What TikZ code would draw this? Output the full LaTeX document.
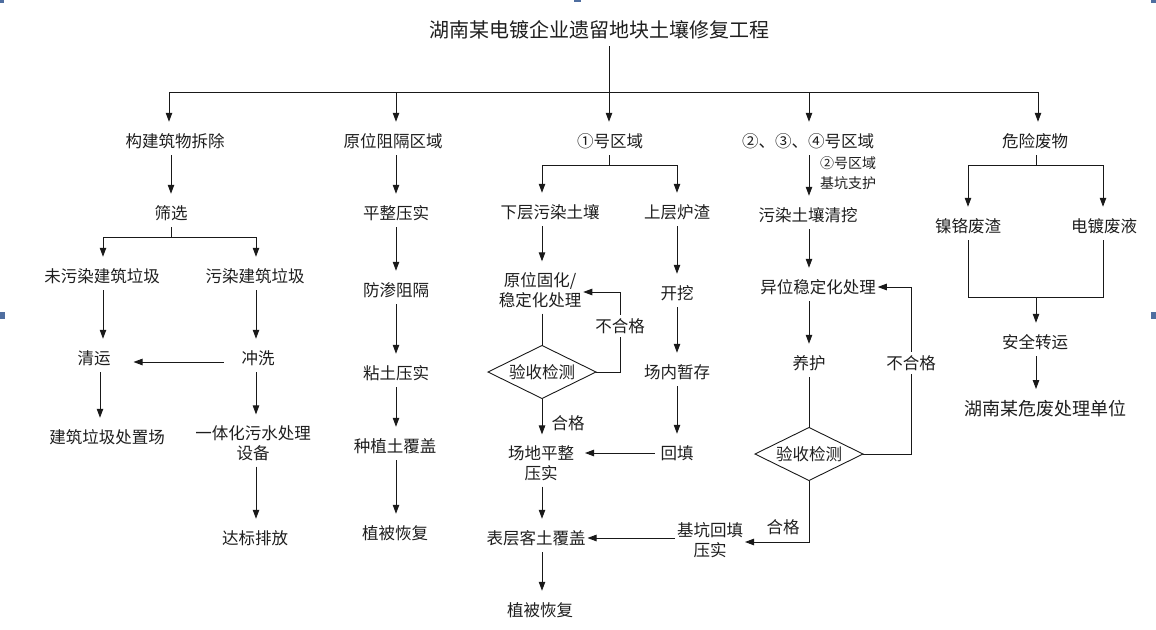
\documentclass[tikz,border=0pt]{standalone}
\usepackage{fontspec}
\setmainfont{Noto Sans CJK SC}
\usetikzlibrary{arrows.meta,shapes.geometric}
\definecolor{ln}{RGB}{25,25,25}
\definecolor{tx}{RGB}{30,30,30}
\definecolor{handle}{RGB}{79,110,160}
\begin{document}
\begin{tikzpicture}[x=1pt,y=-1pt,
  line/.style={draw=ln, line width=0.9pt},
  arr/.style={line, -{Triangle[length=9pt,width=6.5pt]}, shorten >=5pt},
  base/.style={inner sep=0pt, outer ysep=6pt, outer xsep=2pt, align=center, text=tx},
  txt/.style={base, font=\fontsize{16.5}{20}\selectfont, text height=14.5pt, text depth=2pt},
  txt2/.style={base, font=\fontsize{16.5}{20}\selectfont},
  txt20/.style={base, font=\fontsize{20}{24}\selectfont, text height=17.6pt, text depth=2.4pt},
  txt18/.style={base, font=\fontsize{18}{22}\selectfont, text height=15.8pt, text depth=2.2pt},
  small/.style={base, font=\fontsize{14}{20}\selectfont},
  lab/.style={txt, fill=white, inner ysep=3pt, outer sep=0pt},
  dia/.style={diamond, draw=ln, line width=0.9pt, aspect=2, inner sep=0pt, outer sep=0pt,
    minimum width=108pt, minimum height=53pt, text=tx,
    font=\fontsize{16.5}{20}\selectfont, text height=14.5pt, text depth=2pt}
]
\useasboundingbox (0,0) rectangle (1156,629);
% selection handles
\fill[handle] (0,0) rectangle (4,3);
\fill[handle] (0,312) rectangle (5,319);
\fill[handle] (1151,312) rectangle (1156,319);
\fill[handle] (1151,0) rectangle (1156,3);
\fill[handle] (574,0) rectangle (581,2);

% ---------- top level ----------
\node[txt20] (T) at (599,30) {湖南某电镀企业遗留地块土壤修复工程};
\node[txt] (A1) at (175,141) {构建筑物拆除};
\node[txt] (A2) at (393,141) {原位阻隔区域};
\node[txt] (A3) at (610,141) {①号区域};
\node[txt] (A4) at (808,141) {②、③、④号区域};
\node[txt] (A5) at (1035,141) {危险废物};

\coordinate (bar1) at (169,92);
\coordinate (bar2) at (396,92);
\coordinate (bar3) at (609,92);
\coordinate (bar4) at (809,92);
\coordinate (bar5) at (1038,92);
\draw[line] (bar1) -- (bar5);
\draw[arr] (T.south -| bar3) -- (bar3 |- A3.north);
\draw[arr] (bar1) -- (bar1 |- A1.north);
\draw[arr] (bar2) -- (bar2 |- A2.north);
\draw[arr] (bar4) -- (bar4 |- A4.north);
\draw[arr] (bar5) -- (bar5 |- A5.north);

% ---------- column 1 ----------
\node[txt] (B1) at (171,213) {筛选};
\draw[arr] (A1.south -| B1) -- (B1.north);
\coordinate (j1) at (171,237);
\coordinate (j1a) at (103,237);
\coordinate (j1b) at (256,237);
\draw[line] (B1) -- (j1);
\draw[line] (j1a) -- (j1b);
\node[txt] (B2) at (102,276) {未污染建筑垃圾};
\node[txt] (B3) at (255,276) {污染建筑垃圾};
\draw[arr] (j1a) -- (j1a |- B2.north);
\draw[arr] (j1b) -- (j1b |- B3.north);
\node[txt] (B4) at (94,358) {清运};
\node[txt] (B5) at (258,358) {冲洗};
\draw[arr] (j1a |- B2.south) -- (j1a |- B4.north);
\draw[arr] (j1b |- B3.south) -- (j1b |- B5.north);
\draw[arr, shorten <=16pt, shorten >=21pt] ([yshift=-4pt]B5.west) -- ([yshift=-4pt]B4.east);
\node[txt] (B6) at (107,437) {建筑垃圾处置场};
\draw[arr] ([xshift=6pt]B4.south) -- ([xshift=6pt]B4.south |- B6.north);
\node[txt2] (B7) at (253,443) {一体化污水处理\\设备};
\draw[arr] (j1b |- B5.south) -- (j1b |- B7.north);
\node[txt] (B8) at (255,538) {达标排放};
\draw[arr] (j1b |- B7.south) -- (j1b |- B8.north);

% ---------- column 2 ----------
\node[txt] (C1) at (396,213) {平整压实};
\node[txt] (C2) at (396,290) {防渗阻隔};
\node[txt] (C3) at (396,373) {粘土压实};
\node[txt] (C4) at (395,446) {种植土覆盖};
\node[txt] (C5) at (395,533) {植被恢复};
\draw[arr] (A2.south -| bar2) -- (bar2 |- C1.north);
\draw[arr] (bar2 |- C1.south) -- (bar2 |- C2.north);
\draw[arr] (bar2 |- C2.south) -- (bar2 |- C3.north);
\draw[arr] (bar2 |- C3.south) -- (bar2 |- C4.north);
\draw[arr] (bar2 |- C4.south) -- (bar2 |- C5.north);

% ---------- column 3 ----------
\coordinate (j3) at (609,165);
\coordinate (j3a) at (542,165);
\coordinate (j3b) at (677,165);
\draw[line] (A3.south -| j3) -- (j3);
\draw[line] (j3a) -- (j3b);
\node[txt] (D1) at (550,212) {下层污染土壤};
\node[txt] (D2) at (677,212) {上层炉渣};
\draw[arr] (j3a) -- (j3a |- D1.north);
\draw[arr] (j3b) -- (j3b |- D2.north);
\node[txt2] (D3) at (540,290) {原位固化/\\稳定化处理};
\draw[arr] (j3a |- D1.south) -- (j3a |- D3.north);
\node[dia] (D4) at (542,372) {验收检测};
\draw[line] (j3a |- D3.south) -- (D4.north);
\coordinate (fb1) at (620,372);
\coordinate (fb1t) at (620,292);
\draw[arr, shorten >=0pt] (D4.east) -- (fb1) -- (fb1t) -- (fb1t -| D3.east);
\node[lab] (L1) at (620,326) {不合格};
\node[txt2] (D5) at (541,463) {场地平整\\压实};
\draw[arr] (D4.south) -- (D4.south |- D5.north);
\node[txt] (L2) at (568,423) {合格};
\node[txt] (E1) at (677,293) {开挖};
\node[txt] (E2) at (677,372) {场内暂存};
\node[txt] (E3) at (677,453) {回填};
\draw[arr] (j3b |- D2.south) -- (j3b |- E1.north);
\draw[arr] (j3b |- E1.south) -- (j3b |- E2.north);
\draw[arr] (j3b |- E2.south) -- (j3b |- E3.north);
\draw[arr, shorten <=4pt, shorten >=9pt] (E3.west) -- (E3.west -| D5.east);
\node[txt] (D6) at (536,538) {表层客土覆盖};
\draw[arr] (j3a |- D5.south) -- (j3a |- D6.north);
\node[txt] (D7) at (540,610) {植被恢复};
\draw[arr] (j3a |- D6.south) -- (j3a |- D7.north);
\node[txt2] (E4) at (710,540) {基坑回填\\压实};
\draw[arr, shorten >=0pt] (E4.west |- D6.east) -- (D6.east);

% ---------- column 4 ----------
\node[txt] (F1) at (808,215) {污染土壤清挖};
\node[small] (F0) at (848,173) {②号区域\\基坑支护};
\draw[arr] (A4.south -| bar4) -- (bar4 |- F1.north);
\node[txt] (F2) at (818,287) {异位稳定化处理};
\draw[arr] (bar4 |- F1.south) -- (bar4 |- F2.north);
\node[txt] (F3) at (809,363) {养护};
\draw[arr] (bar4 |- F2.south) -- (bar4 |- F3.north);
\node[dia] (F4) at (809,454) {验收检测};
\draw[line] (F3.south) -- (F4.north);
\coordinate (fb2) at (911,454);
\draw[arr, shorten >=0pt] (F4.east) -- (fb2) -- (fb2 |- F2.east) -- (F2.east);
\node[lab] (L3) at (911,363) {不合格};
\coordinate (ok2) at (809,542);
\draw[arr, shorten >=0pt] (F4.south) -- (ok2) -- (ok2 -| E4.east);
\node[txt] (L4) at (783,527) {合格};

% ---------- column 5 ----------
\coordinate (j5) at (1036,165);
\coordinate (j5a) at (968,165);
\coordinate (j5b) at (1103,165);
\draw[line] (A5.south -| j5) -- (j5);
\draw[line] (j5a) -- (j5b);
\node[txt] (G1) at (968,226) {镍铬废渣};
\node[txt] (G2) at (1104,226) {电镀废液};
\draw[arr] (j5a) -- (j5a |- G1.north);
\draw[arr] (j5b) -- (j5b |- G2.north);
\coordinate (j6) at (1036,297);
\coordinate (j6a) at (968,297);
\coordinate (j6b) at (1103,297);
\draw[line] (j5a |- G1.south) -- (j6a) -- (j6b) -- (j5b |- G2.south);
\node[txt] (G3) at (1035,342) {安全转运};
\draw[arr] (j6) -- (j6 |- G3.north);
\node[txt18] (G4) at (1045,409) {湖南某危废处理单位};
\draw[arr] (j6 |- G3.south) -- (j6 |- G4.north);
\end{tikzpicture}
\end{document}
